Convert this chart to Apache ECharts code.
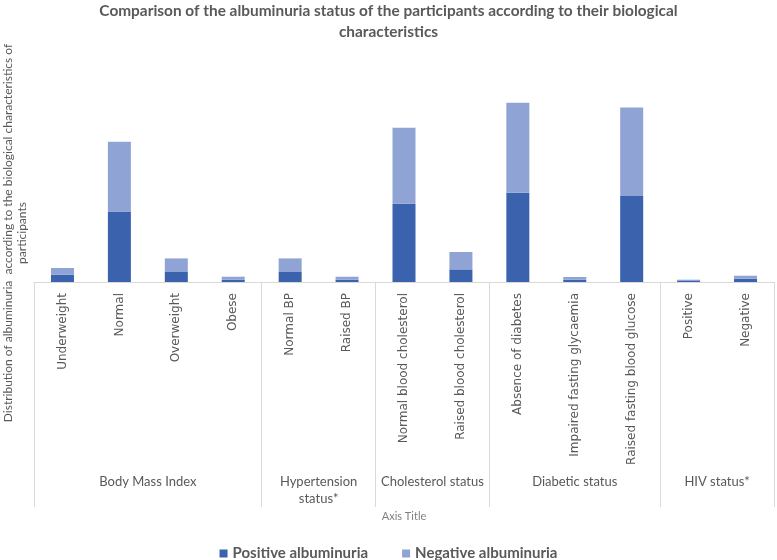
<!DOCTYPE html>
<html>
<head>
<meta charset="utf-8">
<script src="https://cdn.jsdelivr.net/npm/echarts@6/dist/echarts.min.js"></script>
<style>html,body{margin:0;padding:0;background:#fff;}#c{width:777px;height:560px;}</style>
</head>
<body>
<div id="c"></div>
<script>
var categories = ["Underweight", "Normal", "Overweight", "Obese", "Normal BP", "Raised BP",
  "Normal blood cholesterol", "Raised blood cholesterol", "Absence of diabetes",
  "Impaired fasting glycaemia", "Raised fasting blood glucose", "Positive", "Negative"];
var positiveAlb = [7.3, 70.6, 10, 2.3, 10, 2.3, 78.3, 12.6, 89.3, 2.3, 86, 1, 3.3];
var negativeAlb = [6.7, 69.7, 13.6, 3, 13.6, 3, 76, 17.4, 90, 2.7, 88.6, 1.3, 3];
var groupNames = ["Body Mass Index", "Hypertension\nstatus*", "Cholesterol status", "Diabetic status", "HIV status*"];
var groupSizes = [4, 2, 2, 3, 2];

// build half-step group axis (boundaryGap false): index k => position k/2 categories
var total = categories.length;
var groupAxisData = [];
for (var i = 0; i <= total * 2; i++) groupAxisData.push('');
var sepIdx = {0: true};
var acc = 0;
groupSizes.forEach(function (s, g) {
  var center = acc + s / 2;
  groupAxisData[Math.round(center * 2)] = groupNames[g];
  acc += s;
  sepIdx[acc * 2] = true;
});

var chart = echarts.init(document.getElementById('c'));
var font = 'Lato, "Open Sans", sans-serif';
chart.setOption({
  animation: false,
  title: {
    text: 'Comparison of the albuminuria status of the participants according to their biological\ncharacteristics',
    left: 'center', top: -4,
    textStyle: {fontFamily: font, fontSize: 15.4, fontWeight: 'bold', color: '#595959', lineHeight: 21}
  },
  legend: {
    top: 541, left: 'center',
    itemWidth: 8, itemHeight: 8, itemGap: 34, icon: 'rect',
    textStyle: {fontFamily: font, fontSize: 15, fontWeight: 'bold', color: '#595959'},
    data: ['Positive albuminuria', 'Negative albuminuria']
  },
  graphic: [{
    type: 'text', x: 15, y: 233, rotation: Math.PI / 2,
    style: {
      text: 'Distribution of albuminuria  according to the biological characteristics of\nparticipants',
      fontFamily: font, fontSize: 12, fill: '#595959', align: 'center', verticalAlign: 'middle', lineHeight: 14
    }
  }],
  grid: {left: 34, right: 1, top: 82, height: 200},
  xAxis: [{
    type: 'category', data: categories, position: 'bottom',
    axisLine: {show: true, lineStyle: {color: '#d9d9d9'}},
    axisTick: {show: false},
    axisLabel: {rotate: 90, interval: 0, margin: 11, color: '#595959', fontFamily: 'DejaVu Sans', fontSize: 12}
  }, {
    type: 'category', data: groupAxisData, position: 'bottom', boundaryGap: false,
    axisLine: {show: false},
    axisTick: {show: true, length: 225, lineStyle: {color: '#d9d9d9'},
      interval: function (idx) { return !!sepIdx[idx]; }},
    axisLabel: {interval: 0, margin: 191, color: '#595959', fontFamily: font, fontSize: 13, lineHeight: 17},
    name: 'Axis Title', nameLocation: 'middle', nameGap: 229,
    nameTextStyle: {color: '#7f7f7f', fontFamily: font, fontSize: 11}
  }],
  yAxis: {type: 'value', min: 0, max: 200, show: false},
  series: [{
    name: 'Positive albuminuria', type: 'bar', stack: 'a', data: positiveAlb,
    barWidth: 23, itemStyle: {color: '#3a62ad'}, xAxisIndex: 0
  }, {
    name: 'Negative albuminuria', type: 'bar', stack: 'a', data: negativeAlb,
    barWidth: 23, itemStyle: {color: '#8fa3d5'}, xAxisIndex: 0
  }]
});
</script>
</body>
</html>
